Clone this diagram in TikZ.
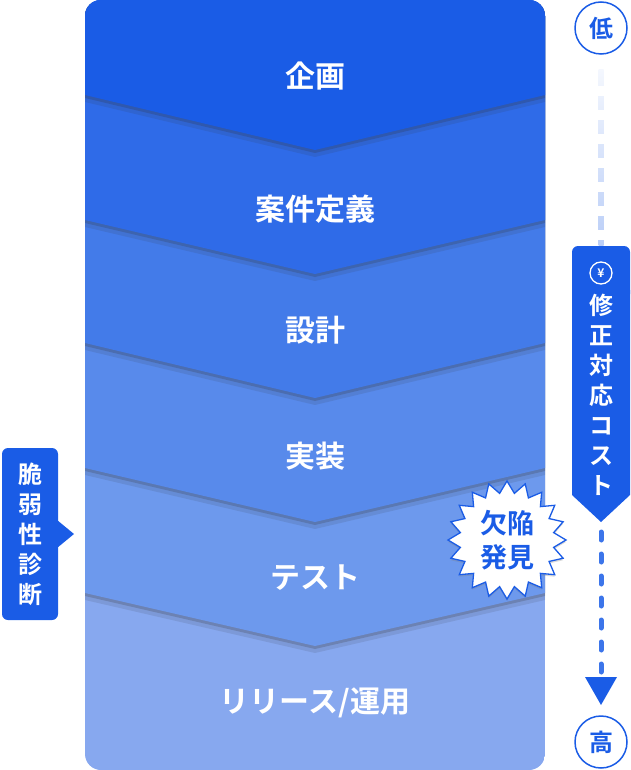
\documentclass[tikz,border=0pt]{standalone}
\usepackage{fontspec}
\setmainfont{Noto Sans CJK JP}[BoldFont={Noto Sans CJK JP Bold}]
\usetikzlibrary{shadows,shapes.geometric,calc}
\definecolor{c1}{HTML}{1A5CE6}
\definecolor{c2}{HTML}{2F6BE8}
\definecolor{c3}{HTML}{437BE9}
\definecolor{c4}{HTML}{588AEB}
\definecolor{c5}{HTML}{6D99ED}
\definecolor{c6}{HTML}{87A8EF}
\definecolor{bl}{HTML}{1A5CE6}
\tikzset{
 x=1pt,y=-1pt,
 band/.style={drop shadow={shadow yshift=-3pt,shadow xshift=0pt,opacity=0.22,fill=black!80},
   drop shadow={shadow yshift=-7pt,shadow xshift=0pt,opacity=0.12,fill=black!80}},
 lab/.style={text=white,font=\bfseries\fontsize{30}{34}\selectfont},
 circ/.style={circle,draw=bl,line width=1.5pt,fill=white,minimum size=52pt,inner sep=0pt,text=bl,font=\bfseries\fontsize{24}{26}\selectfont},
 vtext/.style={text=white,font=\bfseries\fontsize{24}{30}\selectfont,align=center,inner sep=0pt},
 dashline/.style={line width=5pt,line cap=round,dash pattern=on 8pt off 14pt}
}
\begin{document}
\begin{tikzpicture}
\useasboundingbox (0,0) rectangle (630,770);
\begin{scope}
\clip[rounded corners=16pt] (85,0) rectangle (545,770);
\fill[c6] (85,0) rectangle (545,770);
\fill[c5,band] (85,0) -- (545,0) -- (545,593) -- (315,646) -- (85,593) -- cycle;
\fill[c4,band] (85,0) -- (545,0) -- (545,468) -- (315,522) -- (85,468) -- cycle;
\fill[c3,band] (85,0) -- (545,0) -- (545,343) -- (315,398) -- (85,343) -- cycle;
\fill[c2,band] (85,0) -- (545,0) -- (545,220) -- (315,274) -- (85,220) -- cycle;
\fill[c1,band] (85,0) -- (545,0) -- (545,95) -- (315,150) -- (85,95) -- cycle;
\end{scope}
\node[lab] (p1) at (315,76) {企画};
\node[lab] (p2) at (315,209) {案件定義};
\node[lab] (p3) at (315,330) {設計};
\node[lab] (p4) at (315,456) {実装};
\node[lab] (p5) at (315,578) {テスト};
\node[lab] (p6) at (315,703) {リリース/運用};
% burst
\node[star,star points=20,star point ratio=1.25,minimum size=118pt,fill=white,draw=bl,line width=1.3pt,inner sep=0pt,
 drop shadow={shadow xshift=0pt,shadow yshift=-2pt,opacity=0.3}] (burst) at (507,540) {};
\node[text=bl,font=\bfseries\fontsize{27}{34}\selectfont,align=center] (bt) at (507,540) {欠陥\\発見};
% left label
\fill[bl,rounded corners=6pt] (2,448) rectangle (58,620);
\fill[bl] (57,520) -- (74,534) -- (57,548) -- cycle;
\node[vtext] (vuln) at (30,534) {脆\\弱\\性\\診\\断};
% right scale
\node[circ] (low) at (601,28) {低};
\node[circ] (high) at (601,742) {高};
\shade[top color=bl!5,bottom color=bl!30] (598.5,70) rectangle (603.5,245);
\begin{scope}
\clip (590,72) rectangle (612,246);
\foreach \y in {72,96,120,144,168,192,216,240}
  \fill[white] (590,\y+14) rectangle (612,\y+24);
\end{scope}
\fill[bl,rounded corners=6pt] (572,246) -- (630,246) -- (630,300) -- (572,300) -- cycle;
\fill[bl] (572,290) -- (630,290) -- (630,495) -- (601,522) -- (572,495) -- cycle;
\node[circle,draw=white,line width=1.3pt,minimum size=22pt,inner sep=0pt,text=white,font=\bfseries\fontsize{12}{12}\selectfont] (yen) at (601,273) {¥};
\node[vtext,anchor=north] (cost) at (601,294) {修\\正\\対\\応\\コ\\ス\\ト};
\draw[bl!85,dashline] (601,532) -- (601,672);
\coordinate (at) at (601,705);
\fill[bl] (585,677) -- (617,677) -- (at) -- cycle;
\end{tikzpicture}
\end{document}
